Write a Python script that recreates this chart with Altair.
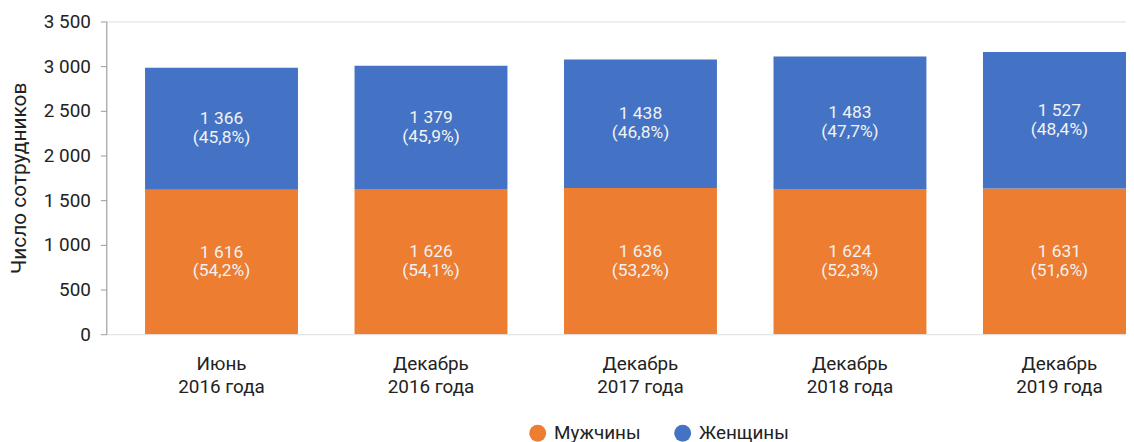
import altair as alt
import pandas as pd

categories = ["Июнь 2016 года", "Декабрь 2016 года", "Декабрь 2017 года", "Декабрь 2018 года", "Декабрь 2019 года"]
men = [1616, 1626, 1636, 1624, 1631]
women = [1366, 1379, 1438, 1483, 1527]
men_pct = [54.2, 54.1, 53.2, 52.3, 51.6]
women_pct = [45.8, 45.9, 46.8, 47.7, 48.4]
series = ["Мужчины", "Женщины"]
colors = ["#ED7D31", "#4472C4"]


def fmt_num(v):
    return f"{v:,}".replace(",", " ")


def fmt_pct(p):
    return f"({p:.1f}%)".replace(".", ",")


rows = []
for i, c in enumerate(categories):
    rows.append({"cat": c, "series": series[0], "ord": 0, "value": men[i],
                 "label": fmt_num(men[i]) + "\n" + fmt_pct(men_pct[i])})
    rows.append({"cat": c, "series": series[1], "ord": 1, "value": women[i],
                 "label": fmt_num(women[i]) + "\n" + fmt_pct(women_pct[i])})
df = pd.DataFrame(rows)

FONT = "Roboto"

x_enc = alt.X(
    "cat:N",
    sort=categories,
    title=None,
    scale=alt.Scale(range=[0, 1076], paddingInner=0.27, paddingOuter=0.185),
    axis=alt.Axis(
        domain=False,
        ticks=False,
        labelAngle=0,
        labelFontSize=19,
        labelColor="#222222",
        labelFont=FONT,
        labelPadding=21,
        labelLineHeight=23,
        labelExpr="[slice(datum.value, 0, indexof(datum.value, ' ')), slice(datum.value, indexof(datum.value, ' ') + 1)]",
    ),
)

base = alt.Chart(df).transform_stack(
    stack="value", groupby=["cat"], sort=[alt.SortField("ord", order="ascending")], as_=["y0", "y1"]
).transform_calculate(mid="(datum.y0 + datum.y1) / 2")

bars = base.mark_bar(clip=True).encode(
    x=x_enc,
    y=alt.Y(
        "y0:Q",
        title="Число сотрудников",
        scale=alt.Scale(domain=[0, 3500]),
        axis=alt.Axis(
            values=[0, 500, 1000, 1500, 2000, 2500, 3000, 3500],
            grid=False,
            domainColor="#999999",
            tickColor="#999999",
            tickSize=6,
            labelFontSize=19,
            labelColor="#222222",
            labelFont=FONT,
            labelPadding=10,
            labelExpr="replace(format(datum.value, ','), ',', ' ')",
            titleFont=FONT,
            titleFontSize=21,
            titleFontWeight="normal",
            titleColor="#222222",
            titlePadding=14,
        ),
    ),
    y2="y1:Q",
    color=alt.Color(
        "series:N",
        scale=alt.Scale(domain=series, range=colors),
        legend=alt.Legend(
            title=None,
            orient="none",
            direction="horizontal",
            legendX=425,
            legendY=405,
            symbolType="circle",
            symbolSize=290,
            symbolStrokeWidth=0,
            labelFont=FONT,
            labelFontSize=19,
            labelColor="#222222",
            labelOffset=7,
            columnPadding=32,
            padding=0,
        ),
    ),
)

texts = base.mark_text(
    font=FONT, fontSize=17.5, color="#F2F2F2", lineBreak="\n", lineHeight=19,
    baseline="middle", align="center", dy=-9.5
).encode(
    x=alt.X("cat:N", sort=categories),
    y=alt.Y("mid:Q"),
    text="label:N",
)

chart = (
    alt.layer(bars, texts)
    .properties(
        width=1027,
        height=315,
        autosize=alt.AutoSizeParams(type="none"),
        padding={"left": 99, "top": 12, "right": 0, "bottom": 107},
    )
    .configure_view(stroke=None)
    .configure(font=FONT)
)

chart.save("out.html", embed_options={"renderer": "svg", "actions": False})
